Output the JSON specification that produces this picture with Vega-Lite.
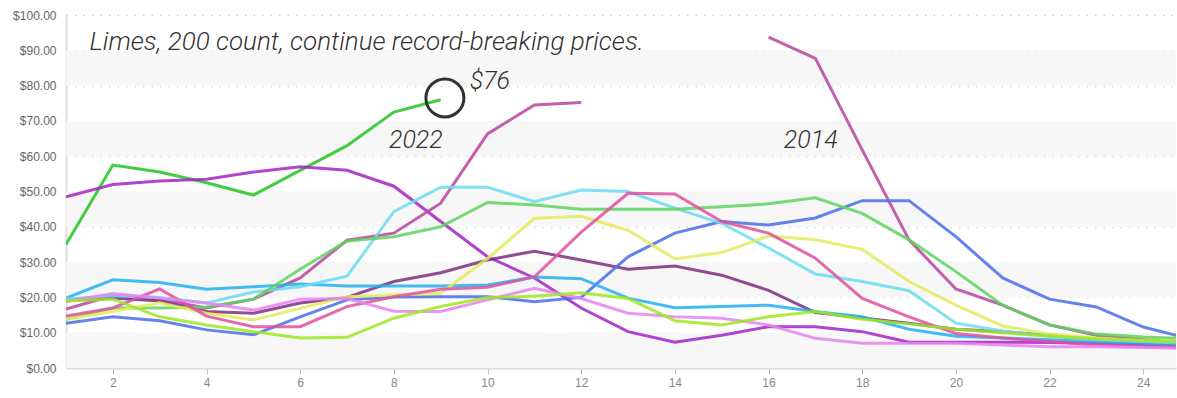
{
  "$schema": "https://vega.github.io/schema/vega-lite/v6.json",
  "width": 1110,
  "height": 353,
  "autosize": {"type": "none"},
  "padding": {"left": 66, "top": 15, "right": 1, "bottom": 30},
  "background": "#ffffff",
  "config": {
    "view": {"stroke": null},
    "axisY": {"labelColor": "#666", "labelFontSize": 12, "labelFont": "Liberation Sans", "ticks": false, "domainColor": "#dddddd", "domainWidth": 2, "labelPadding": 10, "grid": true, "gridColor": "#d4d4d4", "gridDash": [1.5, 7], "gridWidth": 1.5, "format": "$.2f", "title": null, "tickCount": 10, "zindex": 1},
    "axisX": {"labelColor": "#888", "labelFontSize": 12, "labelFont": "Liberation Sans", "tickColor": "#bbbbbb", "tickSize": 6, "domainColor": "#dddddd", "domainWidth": 2, "grid": false, "labelPadding": 3, "title": null, "zindex": 1}
  },
  "datasets": {
    "prices": [
      {"s":"2022","w":1,"p":35},{"s":"2022","w":2,"p":57.5},{"s":"2022","w":3,"p":55.5},{"s":"2022","w":4,"p":52.5},{"s":"2022","w":5,"p":49},{"s":"2022","w":6,"p":56},{"s":"2022","w":7,"p":63},{"s":"2022","w":8,"p":72.5},{"s":"2022","w":9,"p":76},
      {"s":"2015","w":1,"p":48.5},{"s":"2015","w":2,"p":52},{"s":"2015","w":3,"p":53},{"s":"2015","w":4,"p":53.5},{"s":"2015","w":5,"p":55.5},{"s":"2015","w":6,"p":57},{"s":"2015","w":7,"p":56},{"s":"2015","w":8,"p":51.5},{"s":"2015","w":9,"p":41.5},{"s":"2015","w":10,"p":31.5},{"s":"2015","w":11,"p":25.5},{"s":"2015","w":12,"p":17},{"s":"2015","w":13,"p":10.3},{"s":"2015","w":14,"p":7.3},{"s":"2015","w":15,"p":9.3},{"s":"2015","w":16,"p":11.7},{"s":"2015","w":17,"p":11.7},{"s":"2015","w":18,"p":10.3},{"s":"2015","w":19,"p":7.3},{"s":"2015","w":20,"p":7.3},{"s":"2015","w":21,"p":7.3},{"s":"2015","w":22,"p":7.2},{"s":"2015","w":23,"p":7},{"s":"2015","w":24,"p":6.6},{"s":"2015","w":25,"p":6.3},
      {"s":"2014","w":1,"p":16.7},{"s":"2014","w":2,"p":20.5},{"s":"2014","w":3,"p":19.5},{"s":"2014","w":4,"p":17},{"s":"2014","w":5,"p":19.5},{"s":"2014","w":6,"p":25.5},{"s":"2014","w":7,"p":36.2},{"s":"2014","w":8,"p":38.2},{"s":"2014","w":9,"p":46.7},{"s":"2014","w":10,"p":66.3},{"s":"2014","w":11,"p":74.5},{"s":"2014","w":12,"p":75.2},{"s":"2014","w":13,"p":null},{"s":"2014","w":14,"p":null},{"s":"2014","w":15,"p":null},{"s":"2014","w":16,"p":93.7},{"s":"2014","w":17,"p":87.7},{"s":"2014","w":18,"p":61.8},{"s":"2014","w":19,"p":36.3},{"s":"2014","w":20,"p":22.4},{"s":"2014","w":21,"p":17.8},{"s":"2014","w":22,"p":12.2},{"s":"2014","w":23,"p":9.3},{"s":"2014","w":24,"p":8},{"s":"2014","w":25,"p":7},
      {"s":"2017","w":1,"p":19.2},{"s":"2017","w":2,"p":19.8},{"s":"2017","w":3,"p":19},{"s":"2017","w":4,"p":16},{"s":"2017","w":5,"p":15.5},{"s":"2017","w":6,"p":18.4},{"s":"2017","w":7,"p":20},{"s":"2017","w":8,"p":24.5},{"s":"2017","w":9,"p":27},{"s":"2017","w":10,"p":30.6},{"s":"2017","w":11,"p":33.1},{"s":"2017","w":12,"p":30.6},{"s":"2017","w":13,"p":28},{"s":"2017","w":14,"p":28.9},{"s":"2017","w":15,"p":26.3},{"s":"2017","w":16,"p":22},{"s":"2017","w":17,"p":15.7},{"s":"2017","w":18,"p":14.2},{"s":"2017","w":19,"p":12.7},{"s":"2017","w":20,"p":11},{"s":"2017","w":21,"p":10.3},{"s":"2017","w":22,"p":9.3},{"s":"2017","w":23,"p":8},{"s":"2017","w":24,"p":7.5},{"s":"2017","w":25,"p":7},
      {"s":"2021","w":1,"p":12.7},{"s":"2021","w":2,"p":14.5},{"s":"2021","w":3,"p":13.4},{"s":"2021","w":4,"p":10.8},{"s":"2021","w":5,"p":9.4},{"s":"2021","w":6,"p":14.5},{"s":"2021","w":7,"p":19.3},{"s":"2021","w":8,"p":20.1},{"s":"2021","w":9,"p":20.2},{"s":"2021","w":10,"p":20.2},{"s":"2021","w":11,"p":18.8},{"s":"2021","w":12,"p":20},{"s":"2021","w":13,"p":31.5},{"s":"2021","w":14,"p":38.2},{"s":"2021","w":15,"p":41.5},{"s":"2021","w":16,"p":40.5},{"s":"2021","w":17,"p":42.5},{"s":"2021","w":18,"p":47.4},{"s":"2021","w":19,"p":47.4},{"s":"2021","w":20,"p":37.2},{"s":"2021","w":21,"p":25.5},{"s":"2021","w":22,"p":19.5},{"s":"2021","w":23,"p":17.3},{"s":"2021","w":24,"p":11.6},{"s":"2021","w":25,"p":8.3},
      {"s":"2019","w":1,"p":19.8},{"s":"2019","w":2,"p":25},{"s":"2019","w":3,"p":24.2},{"s":"2019","w":4,"p":22.3},{"s":"2019","w":5,"p":23},{"s":"2019","w":6,"p":23.8},{"s":"2019","w":7,"p":23.2},{"s":"2019","w":8,"p":23.2},{"s":"2019","w":9,"p":23.2},{"s":"2019","w":10,"p":23.5},{"s":"2019","w":11,"p":25.8},{"s":"2019","w":12,"p":25.3},{"s":"2019","w":13,"p":19.8},{"s":"2019","w":14,"p":17.1},{"s":"2019","w":15,"p":17.4},{"s":"2019","w":16,"p":17.8},{"s":"2019","w":17,"p":16},{"s":"2019","w":18,"p":14.5},{"s":"2019","w":19,"p":11},{"s":"2019","w":20,"p":9},{"s":"2019","w":21,"p":8.5},{"s":"2019","w":22,"p":8},{"s":"2019","w":23,"p":7.5},{"s":"2019","w":24,"p":7},{"s":"2019","w":25,"p":6.5},
      {"s":"2020","w":1,"p":19.5},{"s":"2020","w":2,"p":20.5},{"s":"2020","w":3,"p":20},{"s":"2020","w":4,"p":18.4},{"s":"2020","w":5,"p":21.5},{"s":"2020","w":6,"p":23},{"s":"2020","w":7,"p":26},{"s":"2020","w":8,"p":44.3},{"s":"2020","w":9,"p":51.2},{"s":"2020","w":10,"p":51.2},{"s":"2020","w":11,"p":47.1},{"s":"2020","w":12,"p":50.4},{"s":"2020","w":13,"p":50},{"s":"2020","w":14,"p":45.3},{"s":"2020","w":15,"p":41},{"s":"2020","w":16,"p":34},{"s":"2020","w":17,"p":26.6},{"s":"2020","w":18,"p":24.5},{"s":"2020","w":19,"p":21.9},{"s":"2020","w":20,"p":12.7},{"s":"2020","w":21,"p":10.5},{"s":"2020","w":22,"p":9},{"s":"2020","w":23,"p":8},{"s":"2020","w":24,"p":7.5},{"s":"2020","w":25,"p":7},
      {"s":"2018","w":1,"p":13.8},{"s":"2018","w":2,"p":17},{"s":"2018","w":3,"p":17},{"s":"2018","w":4,"p":17.3},{"s":"2018","w":5,"p":19.5},{"s":"2018","w":6,"p":28},{"s":"2018","w":7,"p":36},{"s":"2018","w":8,"p":37.2},{"s":"2018","w":9,"p":40},{"s":"2018","w":10,"p":46.9},{"s":"2018","w":11,"p":46.2},{"s":"2018","w":12,"p":45},{"s":"2018","w":13,"p":45},{"s":"2018","w":14,"p":45},{"s":"2018","w":15,"p":45.7},{"s":"2018","w":16,"p":46.5},{"s":"2018","w":17,"p":48.2},{"s":"2018","w":18,"p":43.8},{"s":"2018","w":19,"p":36.3},{"s":"2018","w":20,"p":27.3},{"s":"2018","w":21,"p":17.8},{"s":"2018","w":22,"p":12.2},{"s":"2018","w":23,"p":9.6},{"s":"2018","w":24,"p":8.8},{"s":"2018","w":25,"p":8.3},
      {"s":"2013","w":1,"p":13.8},{"s":"2013","w":2,"p":16},{"s":"2013","w":3,"p":18.5},{"s":"2013","w":4,"p":15.5},{"s":"2013","w":5,"p":13.6},{"s":"2013","w":6,"p":16.9},{"s":"2013","w":7,"p":20.2},{"s":"2013","w":8,"p":20.7},{"s":"2013","w":9,"p":21.2},{"s":"2013","w":10,"p":31},{"s":"2013","w":11,"p":42.4},{"s":"2013","w":12,"p":43},{"s":"2013","w":13,"p":39},{"s":"2013","w":14,"p":30.9},{"s":"2013","w":15,"p":32.7},{"s":"2013","w":16,"p":37.4},{"s":"2013","w":17,"p":36.3},{"s":"2013","w":18,"p":33.6},{"s":"2013","w":19,"p":24.5},{"s":"2013","w":20,"p":17.8},{"s":"2013","w":21,"p":11.9},{"s":"2013","w":22,"p":9.6},{"s":"2013","w":23,"p":8.5},{"s":"2013","w":24,"p":7.8},{"s":"2013","w":25,"p":7.5},
      {"s":"2012","w":1,"p":14.7},{"s":"2012","w":2,"p":17},{"s":"2012","w":3,"p":22.4},{"s":"2012","w":4,"p":14.7},{"s":"2012","w":5,"p":11.7},{"s":"2012","w":6,"p":11.7},{"s":"2012","w":7,"p":17.4},{"s":"2012","w":8,"p":20.2},{"s":"2012","w":9,"p":22.3},{"s":"2012","w":10,"p":22.9},{"s":"2012","w":11,"p":25.8},{"s":"2012","w":12,"p":38.5},{"s":"2012","w":13,"p":49.5},{"s":"2012","w":14,"p":49.3},{"s":"2012","w":15,"p":41.5},{"s":"2012","w":16,"p":38.2},{"s":"2012","w":17,"p":31.1},{"s":"2012","w":18,"p":19.7},{"s":"2012","w":19,"p":14.5},{"s":"2012","w":20,"p":9.8},{"s":"2012","w":21,"p":8.5},{"s":"2012","w":22,"p":7.5},{"s":"2012","w":23,"p":6.5},{"s":"2012","w":24,"p":6},{"s":"2012","w":25,"p":5.8},
      {"s":"2016","w":1,"p":18.8},{"s":"2016","w":2,"p":21.1},{"s":"2016","w":3,"p":19.8},{"s":"2016","w":4,"p":18.4},{"s":"2016","w":5,"p":16.4},{"s":"2016","w":6,"p":19.5},{"s":"2016","w":7,"p":19.7},{"s":"2016","w":8,"p":16.1},{"s":"2016","w":9,"p":16},{"s":"2016","w":10,"p":19.3},{"s":"2016","w":11,"p":22.6},{"s":"2016","w":12,"p":19.7},{"s":"2016","w":13,"p":15.5},{"s":"2016","w":14,"p":14.5},{"s":"2016","w":15,"p":14.1},{"s":"2016","w":16,"p":12.2},{"s":"2016","w":17,"p":8.4},{"s":"2016","w":18,"p":7},{"s":"2016","w":19,"p":7},{"s":"2016","w":20,"p":7},{"s":"2016","w":21,"p":6.5},{"s":"2016","w":22,"p":6},{"s":"2016","w":23,"p":6},{"s":"2016","w":24,"p":5.8},{"s":"2016","w":25,"p":5.5},
      {"s":"2011","w":1,"p":19},{"s":"2011","w":2,"p":19.5},{"s":"2011","w":3,"p":14.5},{"s":"2011","w":4,"p":12.2},{"s":"2011","w":5,"p":10.3},{"s":"2011","w":6,"p":8.5},{"s":"2011","w":7,"p":8.7},{"s":"2011","w":8,"p":14.1},{"s":"2011","w":9,"p":17.4},{"s":"2011","w":10,"p":20},{"s":"2011","w":11,"p":20.3},{"s":"2011","w":12,"p":21.3},{"s":"2011","w":13,"p":19.7},{"s":"2011","w":14,"p":13.4},{"s":"2011","w":15,"p":12.2},{"s":"2011","w":16,"p":14.5},{"s":"2011","w":17,"p":16},{"s":"2011","w":18,"p":13.8},{"s":"2011","w":19,"p":12.5},{"s":"2011","w":20,"p":11},{"s":"2011","w":21,"p":10},{"s":"2011","w":22,"p":9},{"s":"2011","w":23,"p":8.3},{"s":"2011","w":24,"p":7.8},{"s":"2011","w":25,"p":7.5}
    ]
  },
  "layer": [
    {
      "data": {"values": [{"lo": 0, "hi": 10}, {"lo": 20, "hi": 30}, {"lo": 40, "hi": 50}, {"lo": 60, "hi": 70}, {"lo": 80, "hi": 90}]},
      "mark": {"type": "rect", "fill": "#f7f7f7"},
      "encoding": {
        "y": {"field": "lo", "type": "quantitative", "scale": {"domain": [0, 100], "nice": false}},
        "y2": {"field": "hi"}
      }
    },
    {
      "data": {"name": "prices"},
      "mark": {"type": "line", "strokeWidth": 3, "opacity": 0.85, "clip": true, "invalid": "break-paths-filter-domains"},
      "encoding": {
        "x": {"field": "w", "type": "quantitative", "scale": {"domain": [1, 24.7], "nice": false, "zero": false}, "axis": {"values": [2,4,6,8,10,12,14,16,18,20,22,24]}},
        "y": {"field": "p", "type": "quantitative", "scale": {"domain": [0, 100], "nice": false}},
        "color": {"field": "s", "type": "nominal", "legend": null,
          "scale": {"domain": ["2011","2012","2013","2014","2015","2016","2017","2018","2019","2020","2021","2022"],
                    "range": ["#9fe822","#e0509f","#e2ec5a","#b8449f","#a422c4","#e684ee","#7d2f7d","#5ed35e","#22b0f0","#6adcf0","#4a6ee8","#22c422"]}}
      }
    },
    {
      "data": {"values": [{"w": 9.09, "p": 76.5}]},
      "mark": {"type": "point", "shape": "circle", "filled": false, "size": 1444, "stroke": "#333333", "strokeWidth": 3, "opacity": 1},
      "encoding": {
        "x": {"field": "w", "type": "quantitative"},
        "y": {"field": "p", "type": "quantitative"}
      }
    },
    {
      "data": {"values": [{"t": "Limes, 200 count, continue record-breaking prices.", "w": 1.5, "p": 90}]},
      "mark": {"type": "text", "align": "left", "baseline": "alphabetic", "font": "Roboto", "fontStyle": "italic", "fontWeight": 300, "fontSize": 26, "color": "#333333"},
      "encoding": {
        "x": {"field": "w", "type": "quantitative"},
        "y": {"field": "p", "type": "quantitative"},
        "text": {"field": "t"}
      }
    },
    {
      "data": {"values": [{"t": "$76", "w": 10.05, "p": 79}, {"t": "2022", "w": 8.47, "p": 62.3}, {"t": "2014", "w": 16.9, "p": 62.3}]},
      "mark": {"type": "text", "align": "center", "baseline": "alphabetic", "font": "Roboto", "fontStyle": "italic", "fontWeight": 300, "fontSize": 25, "color": "#333333"},
      "encoding": {
        "x": {"field": "w", "type": "quantitative"},
        "y": {"field": "p", "type": "quantitative"},
        "text": {"field": "t"}
      }
    }
  ]
}
